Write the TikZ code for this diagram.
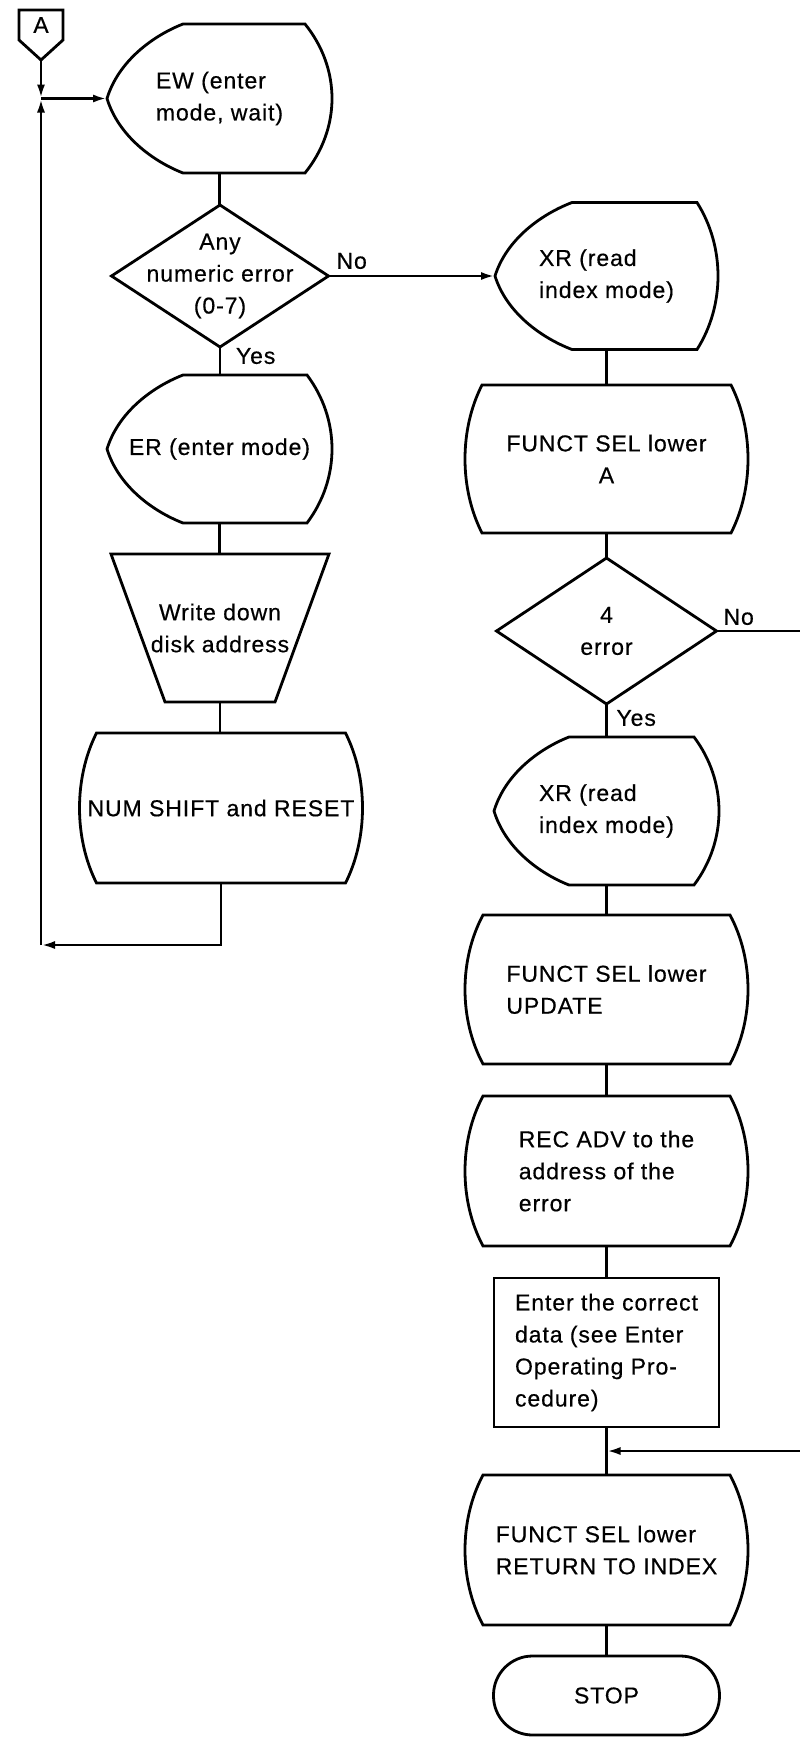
\documentclass[tikz,border=0pt]{standalone}
\usepackage{fontspec}
\setmainfont{Liberation Sans}[LetterSpace=4,FakeBold=0.5]
\usetikzlibrary{calc,arrows.meta}
\newcommand\fs{\fontsize{23pt}{32pt}\selectfont}
\tikzset{
  nbox/.style={rectangle, inner sep=0pt, outer sep=0pt, font=\fs, align=center},
  ln/.style={line width=2.8pt},
  shp/.style={line width=2.8pt, line join=miter},
  arr/.style={ln, -{Latex[length=14pt,width=8pt]}},
  lbl/.style={inner sep=0pt, outer sep=0pt, font=\fs},
}
% display shape: #1 node, #2 depth of left point, #3 bulge of right side
\newcommand\dispshape[3]{%
  \draw[shp] let \p1=(#1.north west), \p2=(#1.south east),
    \n1={#3/0.75}, \n2={\y1-\y2}, \n3={(\y1+\y2)/2} in
    ({\x1+#2pt},\y1) -- ({\x2-#3pt},\y1)
    .. controls ({\x2-#3pt+\n1},{\y1-0.3*\n2}) and ({\x2-#3pt+\n1},{\y2+0.3*\n2}) .. ({\x2-#3pt},\y2)
    -- ({\x1+#2pt},\y2)
    .. controls ({\x1+0.6*#2pt},{\y2+0.08*\n2}) and ({\x1+0.15*#2pt},{\n3-0.25*\n2}) .. (\x1,\n3)
    .. controls ({\x1+0.15*#2pt},{\n3+0.25*\n2}) and ({\x1+0.6*#2pt},{\y1-0.08*\n2}) .. cycle;}
% barrel shape: #1 node, #2 bulge of both sides
\newcommand\barrelshape[2]{%
  \draw[shp] let \p1=(#1.north west), \p2=(#1.south east),
    \n1={#2/0.75}, \n2={\y1-\y2} in
    ({\x1+#2pt},\y1) -- ({\x2-#2pt},\y1)
    .. controls ({\x2-#2pt+\n1},{\y1-0.3*\n2}) and ({\x2-#2pt+\n1},{\y2+0.3*\n2}) .. ({\x2-#2pt},\y2)
    -- ({\x1+#2pt},\y2)
    .. controls ({\x1+#2pt-\n1},{\y2+0.3*\n2}) and ({\x1+#2pt-\n1},{\y1-0.3*\n2}) .. cycle;}
\newcommand\diashape[1]{\draw[shp] (#1.north) -- (#1.east) -- (#1.south) -- (#1.west) -- cycle;}
\newcommand\trapshape[2]{\draw[shp] (#1.north west) -- (#1.north east) -- ($(#1.south east)+(-#2,0)$) -- ($(#1.south west)+(#2,0)$) -- cycle;}
\begin{document}
\begin{tikzpicture}[x=1pt,y=-1pt]
\useasboundingbox (0,0) rectangle (800,1743);
% nodes
\node[nbox, minimum width=44pt, minimum height=30pt] (conA) at (41,25) {A};
\coordinate (atip) at ($(conA.south)+(0,20)$);
\node[nbox, align=left, minimum width=225pt, minimum height=149pt] (ew) at (219.5,98.5) {EW (enter\\mode, wait)};
\node[nbox, minimum width=217pt, minimum height=142pt] (d1) at (220,276) {Any\\numeric error\\(0-7)};
\node[nbox, minimum width=225pt, minimum height=148pt] (er) at (219.5,449) {ER (enter mode)};
\node[nbox, minimum width=218pt, minimum height=148pt] (wd) at (220,628) {Write down\\disk address};
\node[nbox, minimum width=283pt, minimum height=150pt] (nums) at (221,808) {NUM SHIFT and RESET};
\node[nbox, align=left, minimum width=223pt, minimum height=147pt] (xr1) at (606.5,276) {XR (read\\index mode)};
\node[nbox, minimum width=283pt, minimum height=148pt] (fa) at (606.5,459) {FUNCT SEL lower\\A};
\node[nbox, minimum width=220pt, minimum height=146pt] (d2) at (606.5,631) {4\\error};
\node[nbox, align=left, minimum width=225pt, minimum height=148pt] (xr2) at (606.5,811) {XR (read\\index mode)};
\node[nbox, align=left, minimum width=283pt, minimum height=149pt] (fu) at (606.5,989.5) {FUNCT SEL lower\\UPDATE};
\node[nbox, align=left, minimum width=283pt, minimum height=150pt] (rec) at (606.5,1171) {REC ADV to the\\address of the\\error};
\node[nbox, draw, ln, align=left, minimum width=225pt, minimum height=149pt] (ent) at (606.5,1352.5) {Enter the correct\\data (see Enter\\Operating Pro-\\cedure)};
\node[nbox, align=left, minimum width=283pt, minimum height=150pt] (ret) at (606.5,1550) {FUNCT SEL lower\\RETURN TO INDEX};
\node[nbox, draw, ln, rounded corners=39pt, minimum width=226pt, minimum height=79pt] (stop) at (606.5,1695.5) {STOP};
% outlines
\draw[shp] (conA.north west) -- (conA.north east) -- (conA.south east) -- (atip) -- (conA.south west) -- cycle;
\dispshape{ew}{76}{27}
\diashape{d1}
\dispshape{er}{76}{25}
\trapshape{wd}{54}
\barrelshape{nums}{17}
\dispshape{xr1}{77}{21}
\barrelshape{fa}{17}
\diashape{d2}
\dispshape{xr2}{75}{25}
\barrelshape{fu}{18}
\barrelshape{rec}{18}
\barrelshape{ret}{18}
% junctions
\coordinate (j1) at (atip |- ew.west);
\coordinate (lc) at (41,945);
\coordinate (eR1) at (d2.east -| 800,0);
\coordinate (eR2) at (800,1451);
\coordinate (j2) at (ent.south |- 0,1451);
% connectors
\draw[arr] (atip) -- (j1);
\draw[arr] (j1) -- (ew.west);
\draw[arr] (nums.south) |- (lc);
\draw[arr] (lc) -- (j1);
\draw[ln] (ew.south) -- (ew.south |- d1.north);
\draw[arr] (d1.east) -- (d1.east -| xr1.west);
\draw[ln] (d1.south) -- (d1.south |- er.north);
\draw[ln] (er.south) -- (er.south |- wd.north);
\draw[ln] (wd.south) -- (wd.south |- nums.north);
\draw[ln] (xr1.south) -- (xr1.south |- fa.north);
\draw[ln] (fa.south) -- (fa.south |- d2.north);
\draw[ln] (d2.east) -- (eR1);
\draw[ln] (d2.south) -- (d2.south |- xr2.north);
\draw[ln] (xr2.south) -- (xr2.south |- fu.north);
\draw[ln] (fu.south) -- (fu.south |- rec.north);
\draw[ln] (rec.south) -- (rec.south |- ent.north);
\draw[ln] (ent.south) -- (ent.south |- ret.north);
\draw[arr] (eR2) -- (j2);
\draw[ln] (ret.south) -- (ret.south |- stop.north);
% labels
\node[lbl, anchor=south west] (no1) at ($(d1.east)+(8,-7)$) {No};
\node[lbl, anchor=north west] (yes1) at ($(d1.south)+(16,1)$) {Yes};
\node[lbl, anchor=south west] (no2) at ($(d2.east)+(7,-6)$) {No};
\node[lbl, anchor=north west] (yes2) at ($(d2.south)+(10,6)$) {Yes};
\end{tikzpicture}
\end{document}
